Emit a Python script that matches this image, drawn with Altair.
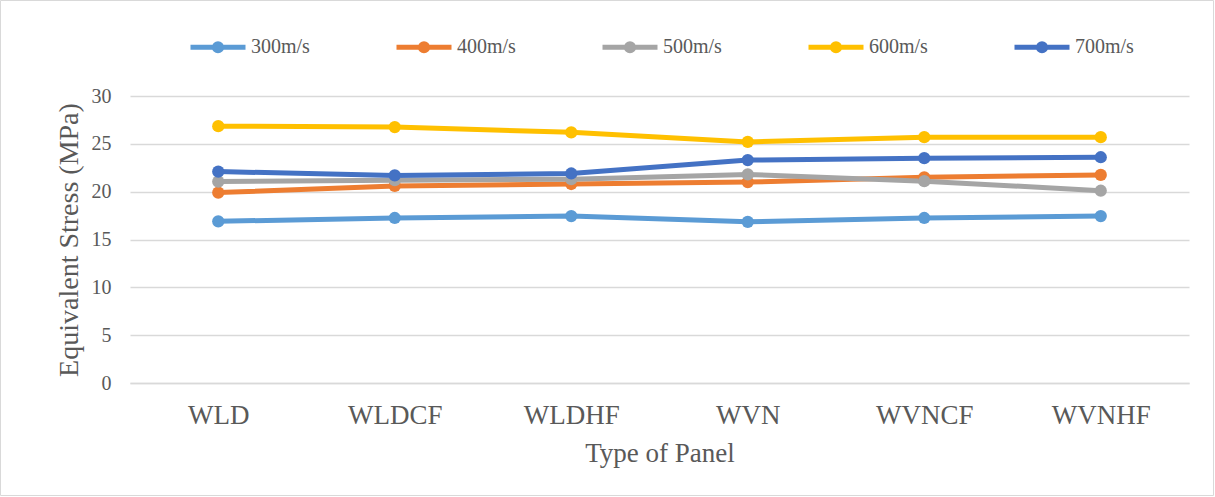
import altair as alt
import pandas as pd

panels = ["WLD", "WLDCF", "WLDHF", "WVN", "WVNCF", "WVNHF"]
series = ["300m/s", "400m/s", "500m/s", "600m/s", "700m/s"]
v300 = [16.9, 17.25, 17.45, 16.85, 17.25, 17.45]
v400 = [19.9, 20.6, 20.8, 21.0, 21.5, 21.75]
v500 = [21.05, 21.2, 21.3, 21.8, 21.1, 20.1]
v600 = [26.85, 26.75, 26.2, 25.2, 25.7, 25.7]
v700 = [22.1, 21.7, 21.9, 23.3, 23.5, 23.6]
colors = ["#5B9BD5", "#ED7D31", "#A5A5A5", "#FFC000", "#4472C4"]

rows = []
for s, vals in zip(series, [v300, v400, v500, v600, v700]):
    for p, v in zip(panels, vals):
        rows.append({"panel": p, "series": s, "value": v})
df = pd.DataFrame(rows)

W, H = 1059, 287
PL, PT, PR, PB = 130, 96, 26, 114
FONT = "Liberation Serif"
TXT = "#595959"

sym = "M -1 0 L 1 0 M 0.13 0 A 0.13 0.13 0 1 1 -0.13 0 A 0.13 0.13 0 1 1 0.13 0 Z"

lines = alt.Chart(df).mark_line(
    strokeWidth=5,
    point=alt.OverlayMarkDef(filled=True, size=150, opacity=1),
).encode(
    x=alt.X("panel:N", sort=panels, scale=alt.Scale(padding=0.5),
            axis=alt.Axis(title="Type of Panel", labelAngle=0, labelFontSize=27,
                          labelFont=FONT, titleFont=FONT,
                          titleFontSize=27, labelPadding=19, titlePadding=12,
                          ticks=False, domainColor="#D9D9D9", domainWidth=1.5)),
    y=alt.Y("value:Q", scale=alt.Scale(domain=[0, 30]),
            axis=alt.Axis(title="Equivalent Stress (MPa)", values=[0, 5, 10, 15, 20, 25, 30],
                          labelFont=FONT, titleFont=FONT,
                          labelFontSize=20, titleFontSize=28, labelPadding=19,
                          titlePadding=8, ticks=False, domain=False,
                          gridColor="#D9D9D9", gridWidth=1.5)),
    color=alt.Color("series:N", sort=series,
                    scale=alt.Scale(domain=series, range=colors),
                    legend=alt.Legend(title=None, orient="none", legendX=58, legendY=-79,
                                      direction="horizontal", columns=5, padding=0,
                                      symbolType=sym, symbolSize=3025, symbolStrokeWidth=5,
                                      labelFontSize=20, labelOffset=3, columnPadding=76,
                                      labelFont=FONT, labelColor=TXT)),
)

border = alt.Chart(pd.DataFrame({"a": [0]})).mark_rect(
    fill=None, stroke="#D9D9D9", strokeWidth=1
).encode(
    x=alt.value(-PL + 0.5), x2=alt.value(W + PR - 1.5),
    y=alt.value(-PT + 0.5), y2=alt.value(H + PB - 1.5),
)

chart = alt.layer(border, lines).properties(
    width=W, height=H,
    autosize=alt.AutoSizeParams(type="none"),
    padding={"left": PL, "top": PT, "right": PR, "bottom": PB},
    background="white",
).configure_view(stroke=None).configure_axis(
    labelFont=FONT, titleFont=FONT, labelColor=TXT, titleColor=TXT,
    titleFontWeight="normal",
)

chart.save("out.html", embed_options={"renderer": "svg", "actions": False})
